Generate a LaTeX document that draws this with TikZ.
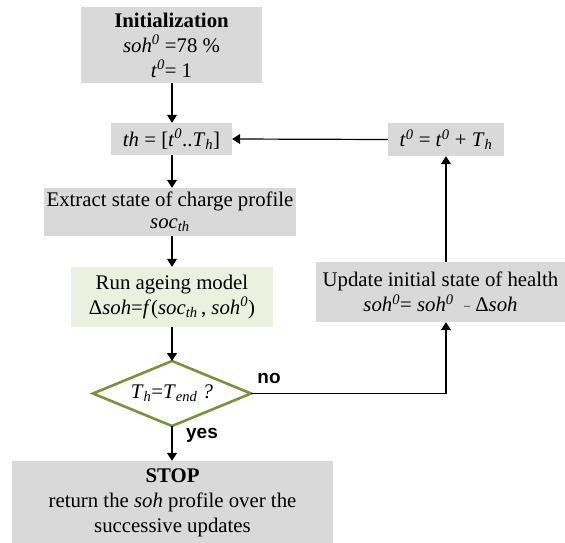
\documentclass[tikz,border=0pt]{standalone}
\usepackage{fontspec}
\setmainfont{Liberation Serif}
\newfontfamily\arialbold{Liberation Sans}
\usetikzlibrary{arrows.meta}
\definecolor{boxgray}{RGB}{217,217,217}
\definecolor{boxgreen}{RGB}{235,241,222}
\definecolor{olive}{RGB}{119,147,60}
\newcommand{\iv}[1]{\textit{#1}}
\newcommand{\sups}[1]{\textsuperscript{\textit{#1}}}
\newcommand{\subs}[1]{\textsubscript{\textit{#1}}}
\begin{document}
\begin{tikzpicture}[x=1pt,y=-1pt,
  every node/.style={font=\fontsize{20.8}{25}\selectfont, align=center, inner sep=0pt},
  grayblock/.style={fill=boxgray},
  greenblock/.style={fill=boxgreen},
  arr/.style={-{Triangle[width=10pt,length=8pt]}, line width=1.2pt},
  lbl/.style={font=\arialbold\bfseries\fontsize{19}{22}\selectfont}]
\useasboundingbox (0,0) rectangle (565,543);
\node[grayblock, minimum width=181pt, minimum height=76pt] (init) at (171.5,45)
  {\textbf{Initialization}\\\iv{soh}\sups{0} =78 \%\\\iv{t}\sups{0}= 1};
\node[grayblock, minimum width=121pt, minimum height=32pt] (th) at (171.5,139)
  {\iv{th} = [\iv{t}\sups{0}..\iv{T}\subs{h}]};
\node[grayblock, minimum width=252pt, minimum height=48pt] (ext) at (170,212)
  {Extract state of charge profile\\[-3pt]\iv{soc}\subs{th}};
\node[greenblock, minimum width=202pt, minimum height=60pt] (run) at (172,297)
  {Run ageing model\\Δ\iv{soh}=\iv{f}(\iv{soc}\subs{th}\,, \iv{soh}\sups{0})};
\coordinate (dc) at (172,393.5);
\coordinate (dt) at (172,361);
\coordinate (db) at (172,426);
\coordinate (dl) at (93,393.5);
\coordinate (dr) at (251,393.5);
\draw[olive, line width=2.6pt, fill=white, line join=miter] (dt) -- (dr) -- (db) -- (dl) -- cycle;
\node (dec) at (dc) {\iv{T}\subs{h}=\iv{T}\subs{end} \iv{?}};
\node[grayblock, minimum width=321pt, minimum height=84pt] (stop) at (172.5,503)
  {\textbf{STOP}\\return the \iv{soh} profile over the\\successive updates};
\node[grayblock, minimum width=249pt, minimum height=60pt] (upd) at (440.5,292)
  {Update initial state of health\\\iv{soh}\sups{0}= \iv{soh}\sups{0} \ {\fontsize{12}{14}\selectfont\raisebox{2pt}{–}}\ Δ\iv{soh}};
\node[grayblock, minimum width=116pt, minimum height=33pt] (tup) at (446,139.5)
  {\iv{t}\sups{0} = \iv{t}\sups{0} + \iv{T}\subs{h}};
\coordinate (corner) at (446,393.5);
\draw[arr] (init.south -| 172,0) -- (th.north -| 172,0);
\draw[arr] (th.south -| 172,0) -- (ext.north -| 172,0);
\draw[arr] (ext.south -| 172,0) -- (run.north);
\draw[arr] (run.south) -- (dt);
\draw[arr] (db) -- (stop.north -| 172,0);
\draw[arr] (dr) -- (corner) -- (upd.south -| 446,0);
\draw[arr] (upd.north -| 446,0) -- (tup.south);
\draw[arr] (tup.west) -- (th.east);
\node[lbl] (no) at (269,378) {no};
\node[lbl] (yes) at (202,435) {yes};
\end{tikzpicture}
\end{document}
